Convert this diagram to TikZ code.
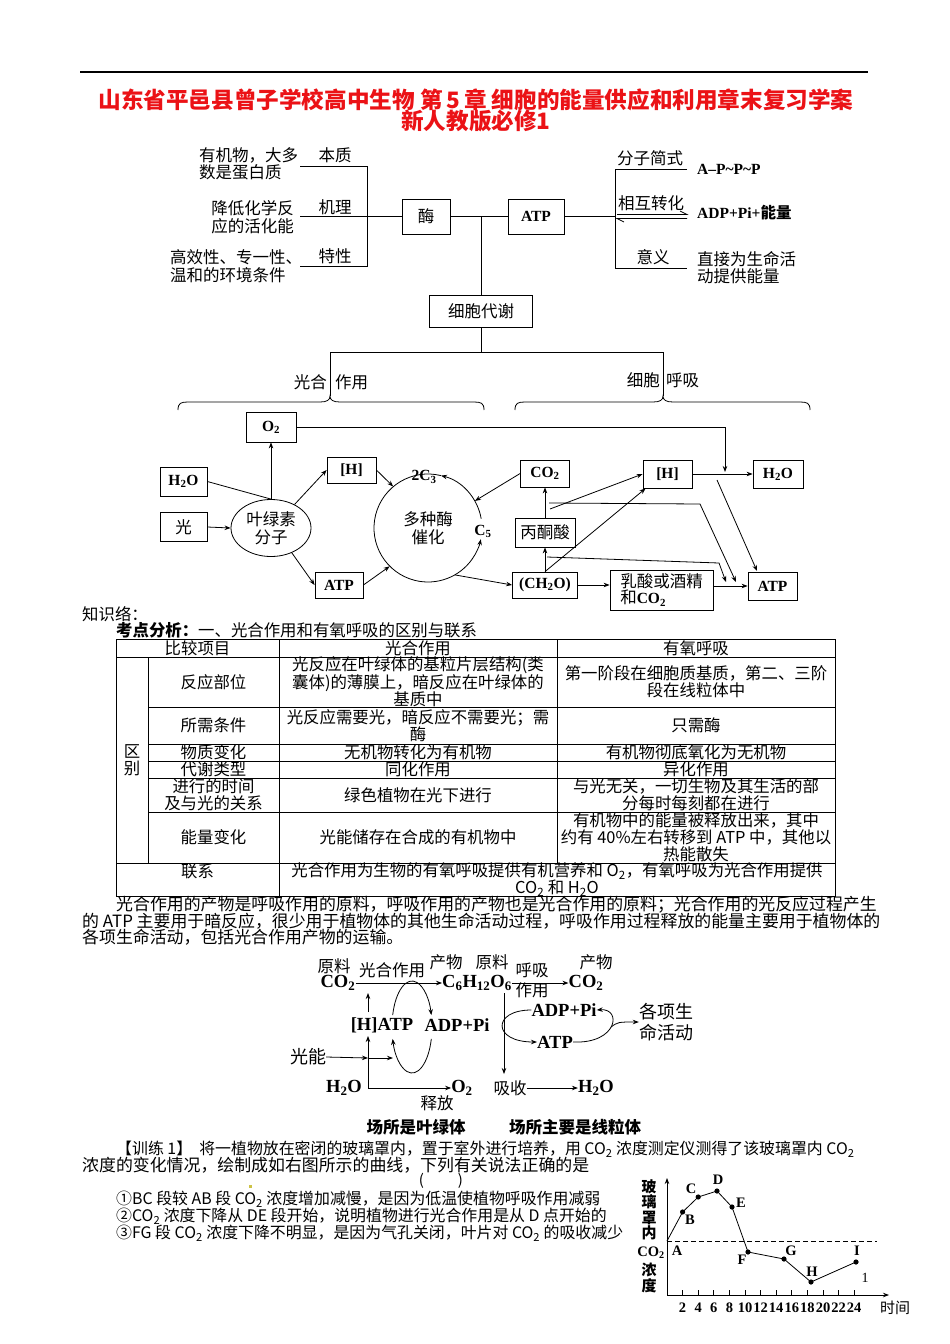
\documentclass[tikz,border=0pt]{standalone}
\usepackage{fontspec}
\setmainfont{Liberation Serif}
\newfontfamily\zh{Noto Sans CJK SC}
\newfontfamily\lat{Liberation Serif}
\usetikzlibrary{arrows.meta,calc,shapes.geometric}
\definecolor{titlered}{RGB}{235,18,22}
\definecolor{dotyel}{RGB}{205,195,70}
\begin{document}
\begin{tikzpicture}[x=1pt,y=1pt,yscale=-1,
  zt/.style={font=\zh\fontsize{16.5}{17.5}\selectfont, inner sep=0pt, align=center},
  bt/.style={font=\zh\fontsize{16.4}{17}\selectfont, inner sep=0pt, align=center},
  pt/.style={font=\zh\fontsize{16.9}{17}\selectfont, inner sep=0pt, align=center},
  et/.style={font=\zh\fontsize{15.9}{17}\selectfont, inner sep=0pt, align=center},
  lt/.style={font=\lat\bfseries\fontsize{15.5}{17}\selectfont, inner sep=0pt},
  lm/.style={font=\lat\bfseries\fontsize{18.5}{20}\selectfont, inner sep=0pt},
  gl/.style={font=\lat\bfseries\fontsize{14.5}{15}\selectfont, inner sep=0pt},
  bx/.style={draw, line width=0.8pt, inner sep=0pt},
  ln/.style={line width=0.8pt},
  arr/.style={line width=0.8pt, -{Stealth[length=6pt,width=4.5pt]}},
  ttl/.style={font=\zh\bfseries\fontsize{22.6}{23}\selectfont, text=titlered, inner sep=0pt},
]
\useasboundingbox (0,0) rectangle (950,1344);
\fill[white] (0,0) rectangle (950,1344);

% ---------- title ----------
\draw[line width=1.2pt] (80,72) -- (868,72);
\node[ttl] (ti1) at (476,100) {山东省平邑县曾子学校高中生物 第\,5\,章 细胞的能量供应和利用章末复习学案};
\node[ttl] (ti2) at (476,121) {新人教版必修1};

% ---------- enzyme / ATP ----------
\node[zt, align=left, anchor=west] (e1) at (199,164) {有机物，大多\\数是蛋白质};
\node[zt] (benzhi) at (335,155) {本质};
\node[zt, align=right, anchor=east] (e2) at (294,217) {降低化学反\\应的活化能};
\node[zt] (jili) at (335,207) {机理};
\node[zt, align=left, anchor=west] (e3) at (170,266) {高效性、专一性、\\温和的环境条件};
\node[zt] (texing) at (335,256) {特性};
\node[bx, zt, minimum width=48, minimum height=35] (mei) at (426,216.5) {酶};
\node[bx, lt, minimum width=56, minimum height=35] (atp1) at (536,216.5) {ATP};
\draw[ln] (300,166) -- (367,166) -- (367,266) -- (300,266);
\draw[ln] (300,216.5) -- (mei.west);
\draw[ln] (mei.east) -- (atp1.west);
\coordinate (j1) at (481,216.5);
\node[bx, zt, minimum width=103, minimum height=32] (dxdx) at (481,311) {细胞代谢};
\draw[ln] (j1) -- (dxdx.north);

\draw[ln] (atp1.east) -- (615,216.5);
\draw[ln] (687,169) -- (615,169) -- (615,268) -- (687,268);
\draw[ln] (617,214.5) -- (687,214.5) -- ++(-7,-3.5);
\draw[ln] (687,218.5) -- (617,218.5) -- ++(7,3.5);
\node[zt] (fzjs) at (650,158) {分子简式};
\node[lt, anchor=west] (apmm) at (697,169) {A–P\textasciitilde P\textasciitilde P};
\node[zt] (xhzh) at (651,203) {相互转化};
\node[lt, anchor=west] (adpn) at (697,213) {ADP+Pi+{\zh 能量}};
\node[zt] (yiyi) at (653,257) {意义};
\node[zt, align=left, anchor=west] (zjw) at (697,267.5) {直接为生命活\\动提供能量};

% ---------- branches ----------
\draw[ln] (dxdx.south) -- (481,352);
\draw[ln] (330,396) -- (330,352) -- (663,352) -- (663,396);
\node[zt, anchor=east] (gh1) at (327,382) {光合};
\node[zt, anchor=west] (gh2) at (335,382) {作用};
\node[zt, anchor=east] (xb1) at (660,380) {细胞};
\node[zt, anchor=west] (xb2) at (666,380) {呼吸};
\draw[ln] (178,410) .. controls (178,403) and (181,402) .. (188,402) -- (320,402)
  .. controls (327,402) and (330,400) .. (330,396)
  .. controls (330,400) and (333,402) .. (340,402) -- (474,402)
  .. controls (481,402) and (484,403) .. (484,410);
\draw[ln] (515,410) .. controls (515,403) and (518,402) .. (525,402) -- (653,402)
  .. controls (660,402) and (663,400) .. (663,396)
  .. controls (663,400) and (666,402) .. (673,402) -- (800,402)
  .. controls (807,402) and (810,403) .. (810,410);

% ---------- cycle diagram ----------
\node[bx, lt, minimum width=50, minimum height=30] (o2) at (271,427) {O\textsubscript{2}};
\node[bx, lt, minimum width=47, minimum height=29] (h2oL) at (183.5,481.5) {H\textsubscript{2}O};
\node[bx, zt, minimum width=47, minimum height=29] (guang) at (183.5,527) {光};
\node[draw, ln, ellipse, zt, minimum width=80, minimum height=57] (yls) at (271,528) {叶绿素\\分子};
\node[bx, lt, minimum width=49, minimum height=26] (hL) at (351.5,470) {[H]};
\node[bx, lt, minimum width=48, minimum height=26] (atpL) at (339,585) {ATP};
\node[circle, zt, minimum size=108] (cyc) at (428,528) {多种酶\\催化};
\node[lt] (c3) at (424,477) {2C\textsubscript{3}};
\node[lt] (c5) at (483,531) {C\textsubscript{5}};
\draw[ln] ($(cyc.center)+(-76:54)$) arc[start angle=-76, end angle=-325, radius=54];
\draw[arr] ($(cyc.center)+(35:54)$) arc[start angle=35, end angle=12, radius=54];
\draw[arr] ($(cyc.center)+(-10:54)$) arc[start angle=-10, end angle=-76, radius=54];

\draw[ln] (h2oL.east) -- (yls.north);
\draw[arr] (yls.north) -- (o2.south);
\draw[arr] (guang.east) -- (yls.west);
\draw[arr] (yls.45) -- (hL.west);
\draw[arr] (yls.-50) -- (atpL.west);
\draw[arr] (hL.east) -- (cyc.130);
\draw[arr] (atpL.east) -- (cyc.225);

\node[bx, lt, minimum width=49, minimum height=27] (co2) at (545,473.5) {CO\textsubscript{2}};
\node[bx, lt, minimum width=49, minimum height=28] (hR) at (667.5,474) {[H]};
\node[bx, lt, minimum width=50, minimum height=28] (h2oR) at (778,474) {H\textsubscript{2}O};
\node[bx, zt, minimum width=60, minimum height=29] (bts) at (545,532.5) {丙酮酸};
\node[bx, lt, minimum width=65, minimum height=26] (ch2o) at (545,585) {(CH\textsubscript{2}O)};
\node[bx, minimum width=103, minimum height=40, inner sep=0pt, align=left] (rs) at (661.5,590)
  {{\zh\fontsize{16.5}{19}\selectfont 乳酸或酒精}\\{\zh\fontsize{16.5}{19}\selectfont 和}{\lat\bfseries\fontsize{15.5}{19}\selectfont CO\textsubscript{2}}};
\node[bx, lt, minimum width=49, minimum height=28] (atpR) at (772.5,586) {ATP};

\draw[arr] (co2.west) -- (cyc.30);
\draw[arr] (cyc.-60) -- (ch2o.west);
\draw[arr] (ch2o.north) -- (bts.south);
\draw[arr] (bts.north) -- (co2.south);
\coordinate (pa) at (549,503);
\coordinate (pb) at (550,509);
\coordinate (pc) at (547,557);
\coordinate (pd) at (717,480);
\draw[arr] (pb) -- (hR.west);
\draw[arr] (ch2o.north) -- ($(hR.south west)+(3,0)$);
\draw[arr] (pa) -- (700,504) -- (736,582);
\draw[arr] (pc) -- (719,563) -- (726,582);
\draw[arr] (pd) -- (757,571);
\draw[arr] (hR.east) -- (h2oR.west);
\draw[arr] (o2.east) -- (725,427) -- (725,472);
\draw[arr] (ch2o.east) -- (ch2o.east -| rs.west);
\draw[arr] (rs.east |- atpR.west) -- (atpR.west);

% ---------- table ----------
\node[bt, anchor=west] (zsl) at (82,614) {知识络：};
\node[bt, anchor=west] (kdfx) at (116,630) {\bfseries 考点分析：\mdseries 一、光合作用和有氧呼吸的区别与联系};

\draw[ln] (116,639) rectangle (835,896);
\draw[ln] (116,657) -- (835,657);
\foreach \yy in {707,744,761,778,812} \draw[ln] (148,\yy) -- (835,\yy);
\draw[ln] (116,863) -- (835,863);
\draw[ln] (148,657) -- (148,863);
\draw[ln] (279,639) -- (279,896);
\draw[ln] (557,639) -- (557,863);

\node[bt] (h0) at (197.5,648) {比较项目};
\node[bt] (h1) at (418,648) {光合作用};
\node[bt] (h2) at (696,648) {有氧呼吸};
\node[bt] (qb) at (132,760) {区\\别};
\node[bt] (r1a) at (213.5,682) {反应部位};
\node[bt] (r1b) at (418,682) {光反应在叶绿体的基粒片层结构(类\\囊体)的薄膜上，暗反应在叶绿体的\\基质中};
\node[bt] (r1c) at (696,682) {第一阶段在细胞质基质，第二、三阶\\段在线粒体中};
\node[bt] (r2a) at (213.5,725.5) {所需条件};
\node[bt] (r2b) at (418,725.5) {光反应需要光，暗反应不需要光；需\\酶};
\node[bt] (r2c) at (696,725.5) {只需酶};
\node[bt] (r3a) at (213.5,752.5) {物质变化};
\node[bt] (r3b) at (418,752.5) {无机物转化为有机物};
\node[bt] (r3c) at (696,752.5) {有机物彻底氧化为无机物};
\node[bt] (r4a) at (213.5,769.5) {代谢类型};
\node[bt] (r4b) at (418,769.5) {同化作用};
\node[bt] (r4c) at (696,769.5) {异化作用};
\node[bt] (r5a) at (213.5,795) {进行的时间\\及与光的关系};
\node[bt] (r5b) at (418,795) {绿色植物在光下进行};
\node[bt] (r5c) at (696,795) {与光无关，一切生物及其生活的部\\分每时每刻都在进行};
\node[bt] (r6a) at (213.5,837.5) {能量变化};
\node[bt] (r6b) at (418,837.5) {光能储存在合成的有机物中};
\node[bt] (r6c) at (696,837.5) {有机物中的能量被释放出来，其中\\约有 40\%左右转移到 ATP 中，其他以\\热能散失};
\node[bt] (r7a) at (197.5,871) {联系};
\node[bt] (r7b) at (557,879.5) {光合作用为生物的有氧呼吸提供有机营养和 O\textsubscript{2}，有氧呼吸为光合作用提供\\CO\textsubscript{2} 和 H\textsubscript{2}O};

% ---------- paragraph ----------
\node[pt, anchor=west] (p1) at (116,905) {光合作用的产物是呼吸作用的原料，呼吸作用的产物也是光合作用的原料；光合作用的光反应过程产生};
\node[pt, anchor=west] (p2) at (82,921) {的 ATP 主要用于暗反应，很少用于植物体的其他生命活动过程，呼吸作用过程释放的能量主要用于植物体的};
\node[pt, anchor=west] (p3) at (82,937) {各项生命活动，包括光合作用产物的运输。};

% ---------- middle diagram ----------
\node[zt] (yl1) at (334,966) {原料};
\node[lm] (co2a) at (338,983) {CO\textsubscript{2}};
\node[zt] (ghzy) at (392,970) {光合作用};
\node[zt] (cw1) at (446,962) {产物};
\node[lm] (glu) at (477,983) {C\textsubscript{6}H\textsubscript{12}O\textsubscript{6}};
\node[zt] (yl2) at (492,962) {原料};
\node[zt] (hx1) at (532,970) {呼吸};
\node[zt] (hx2) at (532,990) {作用};
\node[zt] (cw2) at (596,962) {产物};
\node[lm] (co2b) at (586,983) {CO\textsubscript{2}};
\draw[arr] (co2a.east) -- (glu.west);
\draw[arr] (glu.east) -- (co2b.west);
\node[lm] (hatp) at (382,1025) {[H]ATP};
\node[lm] (adp1) at (457,1025) {ADP+Pi};
\node[zt, font=\zh\fontsize{18}{19}\selectfont] (gn) at (308,1057) {光能};
\node[lm] (h2oa) at (344,1088) {H\textsubscript{2}O};
\node[lm] (o2a) at (462,1088) {O\textsubscript{2}};
\node[zt] (sf) at (437,1103) {释放};
\coordinate (vb) at (368,1088);
\coordinate (vm) at (368,1058);
\draw[arr] (368,1012) -- (368,993);
\draw[arr] (vb) -- (368,1036);
\draw[arr] (vb) -- (o2a.west);
\draw[arr] (gn.east) -- (vm);
\draw[arr] (vm) -- (393,1058);
\draw[arr] (412,1027) ++(-165:20 and 46) arc[start angle=-165, end angle=-15, x radius=20, y radius=46];
\draw[arr] (412,1027) ++(15:20 and 46) arc[start angle=15, end angle=165, x radius=20, y radius=46];
\node[zt] (xs) at (510,1088) {吸收};
\node[lm] (h2ob) at (596,1088) {H\textsubscript{2}O};
\draw[arr] (504,993) -- (504,1074);
\draw[arr] (xs.east) -- (h2ob.west);
\node[lm] (adp2) at (564,1010) {ADP+Pi};
\node[lm] (atp2) at (555,1042) {ATP};
\draw[arr] (adp2.west) .. controls (492,1010) and (492,1042) .. (atp2.west);
\draw[arr] (atp2.east) .. controls (618,1044) and (622,1008) .. (adp2.east);
\coordinate (kk) at (611,1027);
\node[zt, align=left, font=\zh\fontsize{18}{21}\selectfont] (gx) at (666,1022) {各项生\\命活动};
\draw[arr] (kk) .. controls (618,1022) .. (gx.west);
\node[zt, font=\zh\bfseries\fontsize{16.5}{17}\selectfont] (cs1) at (416,1127) {场所是叶绿体};
\node[zt, font=\zh\bfseries\fontsize{16.5}{17}\selectfont] (cs2) at (575,1127) {场所主要是线粒体};

% ---------- exercise ----------
\node[et, anchor=west] (q0) at (116,1149) {【训练 1】\ \ 将一植物放在密闭的玻璃罩内，置于室外进行培养，用 CO\textsubscript{2} 浓度测定仪测得了该玻璃罩内 CO\textsubscript{2}};
\node[pt, anchor=west] (q1) at (82,1165) {浓度的变化情况，绘制成如右图所示的曲线，下列有关说法正确的是};
\node[et, font=\zh\fontsize{15}{16}\selectfont] (qp) at (441,1181) {(\makebox[34pt]{})};
\fill[dotyel] (249,1185) rectangle (252,1188);
\node[et, anchor=west] (o1) at (116,1199) {①BC 段较 AB 段 CO\textsubscript{2} 浓度增加减慢，是因为低温使植物呼吸作用减弱};
\node[et, anchor=west] (o2t) at (116,1216) {②CO\textsubscript{2} 浓度下降从 DE 段开始，说明植物进行光合作用是从 D 点开始的};
\node[et, anchor=west] (o3) at (116,1233) {③FG 段 CO\textsubscript{2} 浓度下降不明显，是因为气孔关闭，叶片对 CO\textsubscript{2} 的吸收减少};

% ---------- graph ----------
\coordinate (org) at (667,1295);
\draw[arr] (org) -- (667,1178);
\draw[arr] (org) -- (889,1295);
\foreach \t in {2,4,...,24} \draw[ln] ({667+7.8*\t},1295) -- ({667+7.8*\t},1290);
\foreach \t in {2,4,6,8} \node[gl] at ({667+7.8*\t},1308) {\t};
\foreach \t in {10,12,...,24} \node[gl] at ({667+7.8*\t},1308) {\t};
\node[zt, font=\zh\fontsize{15}{16}\selectfont] (sj) at (895,1308) {时间};
\draw[ln, dashed, dash pattern=on 5pt off 3pt] (667,1241) -- (877,1241);
\coordinate (A) at (667,1241);
\coordinate (B) at (682.6,1212);
\coordinate (C) at (698.2,1197);
\coordinate (D) at (717,1191);
\coordinate (E) at (732,1207);
\coordinate (F) at (748,1252);
\coordinate (G) at (784,1259);
\coordinate (H) at (811,1282);
\coordinate (I) at (856,1262);
\draw[ln] (A) -- (B) -- (C) -- (D) -- (E) -- (F) -- (G) -- (H) -- (I);
\foreach \p in {B,C,D,E,F,G,H,I} \fill (\p) circle (2.6);
\node[gl] at (677,1251) {A};
\node[gl] at (690,1220) {B};
\node[gl] at (691,1189) {C};
\node[gl] at (718,1180) {D};
\node[gl] at (741,1203) {E};
\node[gl] at (742,1260) {F};
\node[gl] at (791,1251) {G};
\node[gl] at (812,1272) {H};
\node[gl] at (857,1251) {I};
\node[font=\lat\fontsize{14}{15}\selectfont, inner sep=0pt] (one) at (865,1278) {1};
\foreach \ch/\yy in {玻/1187,璃/1202,罩/1218,内/1233,浓/1270,度/1286}
  \node[zt, font=\zh\bfseries\fontsize{15}{16}\selectfont] at (649,\yy) {\ch};
\node[gl] (yco2) at (651,1253) {CO\textsubscript{2}};
\end{tikzpicture}
\end{document}
